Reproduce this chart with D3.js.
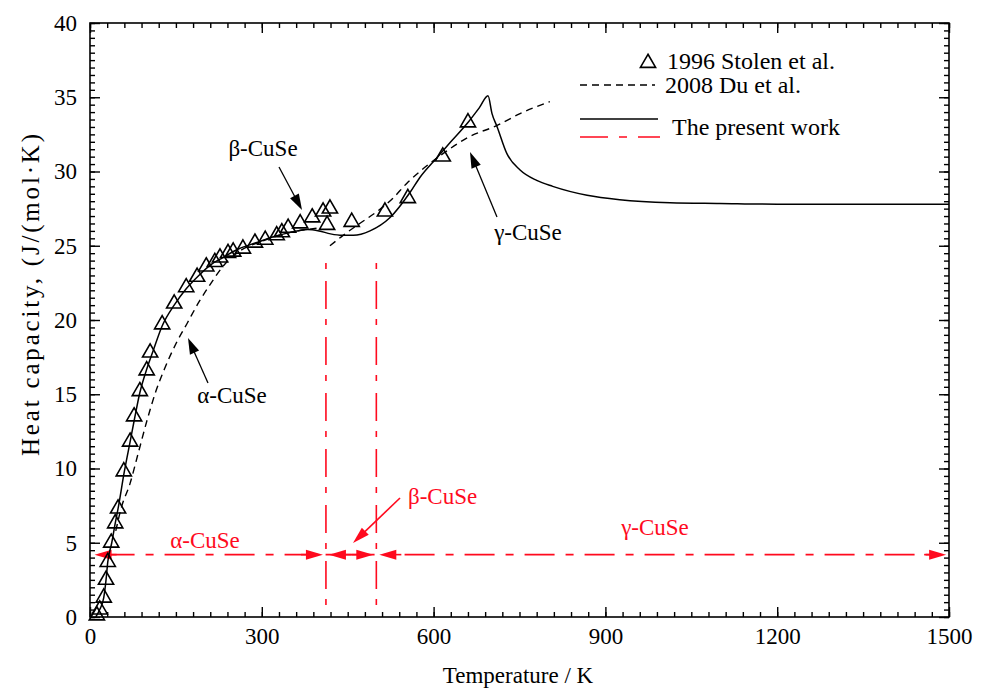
<!DOCTYPE html>
<html><head><meta charset="utf-8">
<script src="https://cdn.jsdelivr.net/npm/d3@7"></script>
<style>body{margin:0;background:#fff}svg{display:block}</style>
</head><body><svg id="c" width="986" height="689"></svg>
<script>
// ---- data ----
const stolenT  = [12,17,24,28,31,37,44,49,59,70,77,87,99,105,126,147,168,187,203,218,227,241,250,267,288,306,326,335,346,367,388,407,414,419,457,515,555,616,660];
const stolenCp = [0.1,0.5,1.3,2.5,3.7,5.0,6.3,7.3,9.8,11.8,13.5,15.2,16.6,17.8,19.7,21.1,22.2,22.9,23.6,23.9,24.2,24.5,24.6,24.8,25.2,25.4,25.7,25.9,26.2,26.5,26.9,27.3,26.4,27.5,26.6,27.3,28.2,31.0,33.3];

const duLowT   = [45,55,70,84,100,115,130,150,170,190,210,232,260,300,350,400];
const duLowCp  = [5.8,7.4,9.0,11.0,13.3,15.2,16.7,18.4,19.8,21.2,22.4,23.6,24.6,25.3,25.9,26.2];
const duHighT  = [419,442,471,501,529,553,576,620,660,711,751,803];
const duHighCp = [25.0,25.7,26.5,27.3,28.2,29.2,30.0,31.3,32.3,33.1,33.9,34.7];

const presentT  = [10,17,24,28,31,38,44,49,60,70,78,87,100,110,126,147,168,190,210,232,260,290,320,350,380,400,420,440,460,489,524,559,576,605,630,660,680,695,702,711,728,751,780,808,868,925,1013,1100,1200,1500];
const presentCp = [0,0.5,1.3,2.5,3.7,5.0,6.3,7.3,9.8,11.8,13.4,15.1,16.8,17.9,19.6,21.0,22.1,23.0,23.7,24.2,24.8,25.2,25.6,25.9,26.1,26.0,25.8,25.7,25.7,26.0,26.9,28.6,29.6,30.9,32.0,33.3,34.3,35.1,33.9,33.0,31.2,30.1,29.4,29.0,28.4,28.1,27.9,27.85,27.8,27.8];

const phaseBounds = [412, 500];     // K, vertical red lines
const phaseArrowCp = 4.2;
const phaseSpans = [[8,412],[412,500],[500,1495]];
const xTicks = [0,300,600,900,1200,1500];
const yTicks = [0,5,10,15,20,25,30,35,40];
const legendLabels = ["1996 Stolen et al.","2008 Du et al.","The present work"];

// ---- setup ----
const FF = "'Liberation Serif', Tinos, 'Times New Roman', Times, serif";
const svg = d3.select("#c").attr("font-family", FF);
const x = d3.scaleLinear().domain([0,1500]).range([90,949]);
const y = d3.scaleLinear().domain([0,40]).range([617,23]);
const RED = "#ff0a1e";
const FONT = 23;
function txt(xx, yy, s, size, anchor, color){
  return svg.append("text").attr("x",xx).attr("y",yy).attr("font-family",FF).attr("font-size",size)
    .attr("text-anchor",anchor||"start").attr("fill",color||"#000").text(s);
}

// red vertical phase lines
svg.selectAll(".vline").data(phaseBounds).join("line")
  .attr("x1", d=>x(d)).attr("x2", d=>x(d)).attr("y1", 263).attr("y2", y(0))
  .attr("stroke", RED).attr("stroke-width", 1.6).attr("stroke-dasharray","6,12,28,10");

// red horizontal arrow line
svg.append("line").attr("x1", x(8)+10).attr("x2", x(1495)-10)
  .attr("y1", y(phaseArrowCp)).attr("y2", y(phaseArrowCp))
  .attr("stroke", RED).attr("stroke-width", 1.6).attr("stroke-dasharray","30,11,8,11");

function head(tx, ty, fx, fy, color, len, hw){
  const dx = tx-fx, dy = ty-fy, L = Math.hypot(dx,dy), ux=dx/L, uy=dy/L;
  const bx = tx-ux*len, by = ty-uy*len;
  svg.append("path").attr("d", `M${tx},${ty}L${bx-uy*hw},${by+ux*hw}L${bx+uy*hw},${by-ux*hw}Z`).attr("fill", color);
}
function arrow(fx, fy, tx, ty, color, len, hw, sw){
  const dx = tx-fx, dy = ty-fy, L = Math.hypot(dx,dy);
  svg.append("line").attr("x1",fx).attr("y1",fy).attr("x2",tx-dx/L*len*0.8).attr("y2",ty-dy/L*len*0.8)
    .attr("stroke",color).attr("stroke-width",sw);
  head(tx,ty,fx,fy,color,len,hw);
}
const yA = y(phaseArrowCp);
phaseSpans.forEach(([a,b])=>{
  const xa = x(a) + (a===8?0:3), xb = x(b) - (b===1495?0:3);
  svg.append("line").attr("x1",xa+5).attr("x2",xa+22).attr("y1",yA).attr("y2",yA).attr("stroke",RED).attr("stroke-width",1.6);
  svg.append("line").attr("x1",xb-22).attr("x2",xb-5).attr("y1",yA).attr("y2",yA).attr("stroke",RED).attr("stroke-width",1.6);
  head(xa, yA, xa+10, yA, RED, 17, 5);
  head(xb, yA, xb-10, yA, RED, 17, 5);
});

// red labels
txt(205,548,"α-CuSe",FONT,"middle",RED);
txt(408,504,"β-CuSe",FONT,"start",RED);
txt(655,535,"γ-CuSe",FONT,"middle",RED);
arrow(400, 498, 353, 543, RED, 17, 5, 1.6);

// curves
const line = d3.line().x(d=>x(d[0])).y(d=>y(d[1])).curve(d3.curveMonotoneX);
svg.append("path").datum(duLowT.map((t,i)=>[t,duLowCp[i]])).attr("d",line)
  .attr("fill","none").attr("stroke","#000").attr("stroke-width",1.4).attr("stroke-dasharray","7,5");
svg.append("path").datum(duHighT.map((t,i)=>[t,duHighCp[i]])).attr("d",line)
  .attr("fill","none").attr("stroke","#000").attr("stroke-width",1.4).attr("stroke-dasharray","7,5");
svg.append("path").datum(presentT.map((t,i)=>[t,presentCp[i]])).attr("d",line)
  .attr("fill","none").attr("stroke","#000").attr("stroke-width",1.5);

// triangles
const tri = d3.symbol().type(d3.symbolTriangle).size(100);
svg.selectAll(".tri").data(stolenT.map((t,i)=>[t,stolenCp[i]])).join("path")
  .attr("d", tri).attr("transform", d=>`translate(${x(d[0])},${y(d[1])})`)
  .attr("fill","none").attr("stroke","#000").attr("stroke-width",1.6);

// black annotations
txt(263,156,"β-CuSe",FONT,"middle");
arrow(279, 167, 302, 210, "#000", 16, 5, 1.3);
txt(232,403,"α-CuSe",FONT,"middle");
arrow(208, 383, 188, 338, "#000", 16, 5, 1.3);
txt(528,240,"γ-CuSe",FONT,"middle");
arrow(497, 217, 470, 152, "#000", 16, 5, 1.3);

// axes (inward ticks, mirrored)
function axis(gen, tr){ const g = svg.append("g").attr("transform", tr).call(gen); g.attr("font-family",FF); g.select(".domain").remove(); g.selectAll("line").attr("stroke","#000").attr("stroke-width",1.4); return g; }
const xMinor = d3.range(0,1501,30), yMinor = d3.range(0,40.01,0.5);
axis(d3.axisBottom(x).tickValues(xTicks).tickSize(-10).tickPadding(11).tickFormat(d3.format("d")), `translate(0,${y(0)})`);
axis(d3.axisBottom(x).tickValues(xMinor).tickSize(-5).tickFormat(""), `translate(0,${y(0)})`);
axis(d3.axisTop(x).tickValues(xTicks).tickSize(-10).tickFormat(""), `translate(0,${y(40)})`);
axis(d3.axisTop(x).tickValues(xMinor).tickSize(-5).tickFormat(""), `translate(0,${y(40)})`);
axis(d3.axisLeft(y).tickValues(yTicks).tickSize(-10).tickPadding(13).tickFormat(d3.format("d")), `translate(${x(0)},0)`);
axis(d3.axisLeft(y).tickValues(yMinor).tickSize(-5).tickFormat(""), `translate(${x(0)},0)`);
axis(d3.axisRight(y).tickValues(yTicks).tickSize(-10).tickFormat(""), `translate(${x(1500)},0)`);
axis(d3.axisRight(y).tickValues(yMinor).tickSize(-5).tickFormat(""), `translate(${x(1500)},0)`);
svg.selectAll(".tick text").attr("font-family",FF).attr("font-size",FONT).attr("fill","#000");

svg.append("rect").attr("x",x(0)).attr("y",y(40)).attr("width",x(1500)-x(0)).attr("height",y(0)-y(40))
  .attr("fill","none").attr("stroke","#000").attr("stroke-width",1.6);

// axis titles
txt(518,683,"Temperature / K",23,"middle");
svg.append("text").attr("transform","translate(39,295) rotate(-90)").attr("text-anchor","middle")
  .attr("font-family",FF).attr("font-size",25).attr("textLength",322).attr("lengthAdjust","spacing")
  .text("Heat capacity, (J/(mol·K)");

// legend
svg.append("path").attr("d", d3.symbol().type(d3.symbolTriangle).size(100)).attr("transform","translate(648,63)")
  .attr("fill","none").attr("stroke","#000").attr("stroke-width",1.6);
txt(667,69,legendLabels[0],24);
svg.append("line").attr("x1",580).attr("x2",655).attr("y1",85).attr("y2",85).attr("stroke","#000").attr("stroke-width",1.4).attr("stroke-dasharray","7,5");
txt(665,93,legendLabels[1],24);
svg.append("line").attr("x1",580).attr("x2",658).attr("y1",119).attr("y2",119).attr("stroke","#000").attr("stroke-width",1.5);
svg.append("line").attr("x1",580).attr("x2",660).attr("y1",137).attr("y2",137).attr("stroke",RED).attr("stroke-width",1.6).attr("stroke-dasharray","28,11,8,11");
txt(672,135,legendLabels[2],24);
</script></body></html>
